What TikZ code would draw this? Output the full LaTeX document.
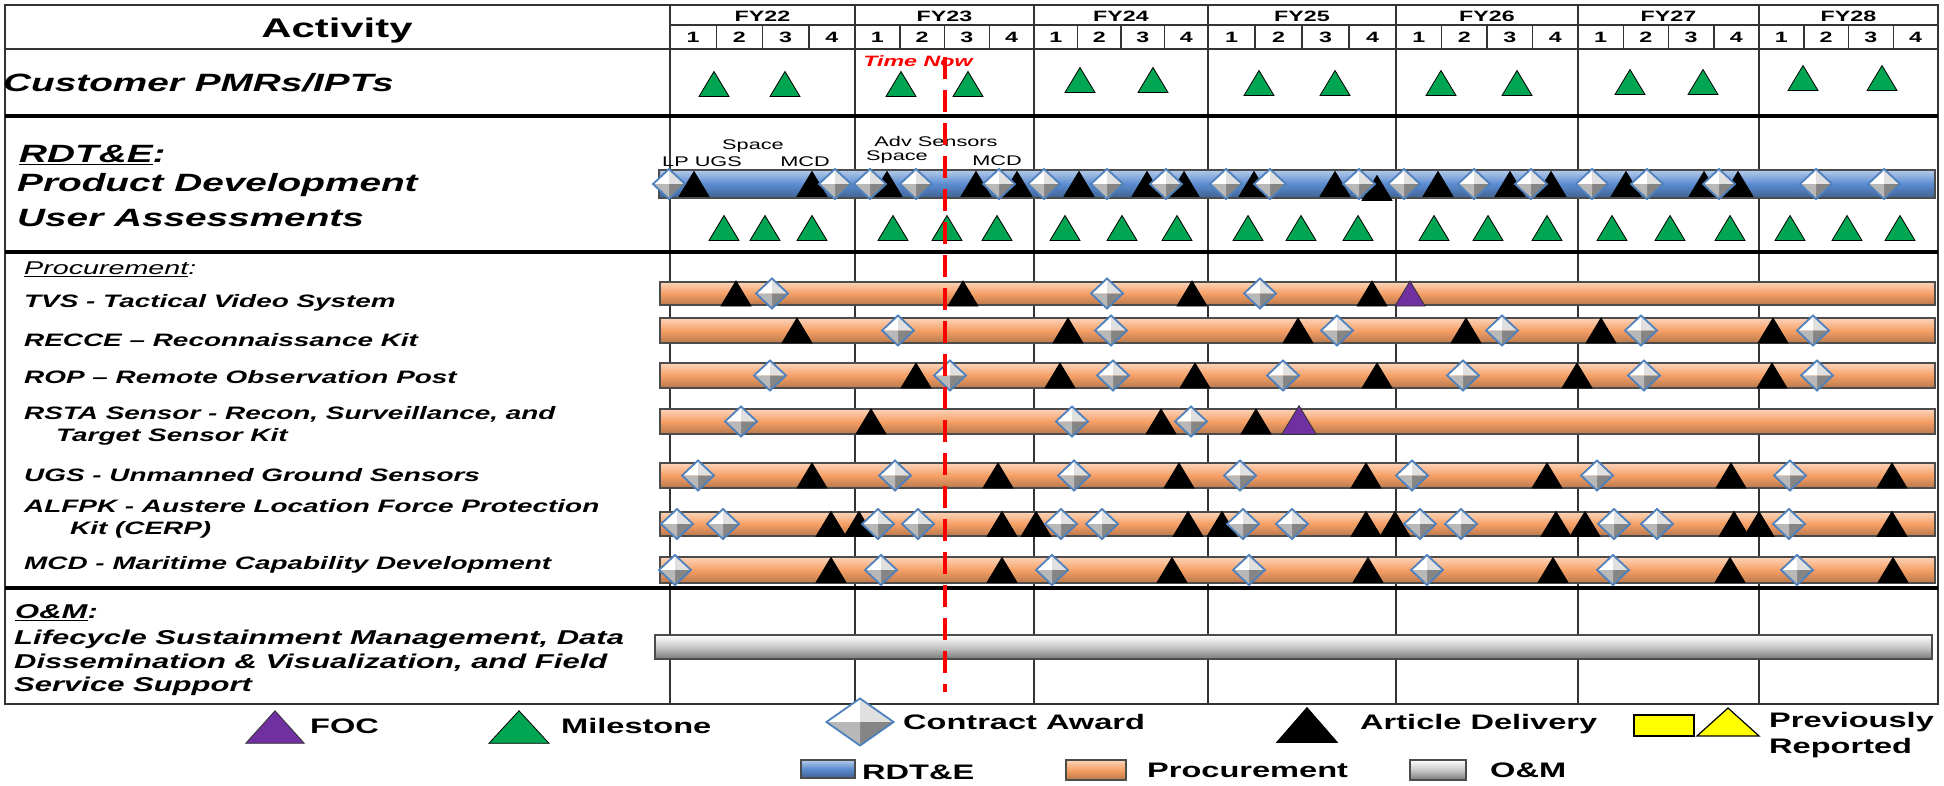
\documentclass[tikz,border=0pt]{standalone}
\usepackage{fontspec}
\setmainfont{Liberation Sans}[FakeStretch=1.55]

\definecolor{rdtblue}{RGB}{91,140,209}
\definecolor{procorange}{RGB}{246,160,102}
\definecolor{omgray}{RGB}{200,200,200}
\definecolor{milegreen}{RGB}{0,166,81}
\definecolor{focpurple}{RGB}{112,48,160}
\definecolor{awardblue}{RGB}{79,129,189}
\definecolor{prevyellow}{RGB}{255,255,0}

\tikzset{
  tri/.pic={\path[pic actions] (-15,12.5) -- (0,-12.5) -- (15,12.5) -- cycle;},
  dia/.pic={
    \fill[white] (0,0) -- (-16,0) -- (0,-15) -- cycle;
    \fill[black!12] (0,0) -- (0,-15) -- (16,0) -- cycle;
    \fill[black!48] (0,0) -- (16,0) -- (0,15) -- cycle;
    \fill[black!28] (0,0) -- (0,15) -- (-16,0) -- cycle;
    \path[pic actions] (-16,0) -- (0,-15) -- (16,0) -- (0,15) -- cycle;},
  mile/.style={draw=black,line width=0.8pt,fill=milegreen},
  deliv/.style={draw=black,line width=0.8pt,fill=black},
  foc/.style={draw=black!80,line width=0.8pt,fill=focpurple},
  award/.style={draw=awardblue,line width=1.8pt},
  prev/.style={draw=black,line width=1.2pt,fill=prevyellow},
  barbase/.style={draw=black!70,line width=1.2pt},
  rdtbar/.style={barbase,top color=rdtblue!45!white,bottom color=rdtblue!70!black,middle color=rdtblue},
  procbar/.style={barbase,top color=procorange!45!white,bottom color=procorange!75!black,middle color=procorange},
  ombar/.style={barbase,top color=white,bottom color=omgray!60!black,middle color=omgray},
  gridline/.style={draw=black!80,line width=1.5pt},
  thickrule/.style={draw=black,line width=4pt},
  nowline/.style={draw=red,line width=4pt,dash pattern=on 22pt off 11pt}
}

\begin{document}
\begin{tikzpicture}[x=1pt,y=-1pt,
  hdr/.style={inner sep=0pt,font=\bfseries\fontsize{15}{17}\selectfont},
  sect/.style={anchor=west,inner sep=0pt,font=\bfseries\itshape\fontsize{25}{28}\selectfont},
  item/.style={anchor=west,inner sep=0pt,align=left,font=\bfseries\itshape\fontsize{18}{22}\selectfont},
  ann/.style={inner sep=0pt,font=\fontsize{14}{16}\selectfont},
  key/.style={anchor=west,inner sep=0pt,align=left,font=\bfseries\fontsize{21}{26}\selectfont}]
\useasboundingbox[fill=white] (0,0) rectangle (1944,785);

% frame and grid
\draw[gridline] (5,5) rectangle (1938,704);
\draw[gridline] (670,5) -- (670,704);
\draw[gridline] (670,25) -- (1938,25);
\draw[gridline] (5,49) -- (1938,49);
\foreach \x in {855,1034,1208,1396,1578,1759}
  \draw[gridline] (\x,5) -- (\x,704);
\foreach \y in {116,252,588}
  \draw[thickrule] (5,\y) -- (1938,\y);

% fiscal years and quarters
\foreach \a/\b/\fy in {670/855/22,855/1034/23,1034/1208/24,1208/1396/25,1396/1578/26,1578/1759/27,1759/1938/28}{
  \node[hdr] (fy\fy) at ({(\a+\b)/2},16.5) {FY\fy};
  \foreach \q in {1,2,3,4}
    \node[hdr] (q\fy-\q) at ({\a+(\q-0.5)*(\b-\a)/4},37.5) {\q};
  \foreach \q in {1,2,3}
    \draw[gridline] ({\a+\q*(\b-\a)/4},25) -- ({\a+\q*(\b-\a)/4},49);
}

% activity labels
\node[inner sep=0pt,font=\bfseries\fontsize{27}{30}\selectfont] (activity) at (337,31) {Activity};
\node[sect] (pmr) at (3,83) {Customer PMRs/IPTs};
\node[sect] (rdte) at (19,155) {\underline{RDT\&E}:};
\node[sect] (proddev) at (17,185) {Product Development};
\node[sect] (userass) at (17,218) {User Assessments};
\node[item,font=\itshape\fontsize{18.5}{22}\selectfont] (procure) at (24,269) {\underline{Procurement}:};
\node[item] (tvs) at (24,303) {TVS - Tactical Video System};
\node[item] (recce) at (24,340) {RECCE – Reconnaissance Kit};
\node[item] (rop) at (24,377) {ROP – Remote Observation Post};
\node[item] (rsta) at (24,426) {RSTA Sensor - Recon, Surveillance, and\\\hspace*{32pt}Target Sensor Kit};
\node[item] (ugs) at (24,475) {UGS - Unmanned Ground Sensors};
\node[item] (alfpk) at (24,519) {ALFPK - Austere Location Force Protection\\\hspace*{46pt}Kit (CERP)};
\node[item] (mcd) at (24,565) {MCD - Maritime Capability Development};
\node[sect,font=\bfseries\itshape\fontsize{20}{23.5}\selectfont] (om) at (15,613) {\underline{O\&M}:};
\node[item,font=\bfseries\itshape\fontsize{20}{23.5}\selectfont] (omtext) at (14,663)
  {Lifecycle Sustainment Management, Data\\Dissemination \& Visualization, and Field\\Service Support};

% program notes
\node[ann] (space1) at (753,146) {Space};
\node[ann,anchor=west] (lpugs) at (662,162) {LP UGS};
\node[ann] (mcd1) at (805,162) {MCD};
\node[ann] (advsens) at (936,141) {Adv Sensors};
\node[ann] (space2) at (897,157) {Space};
\node[ann] (mcd2) at (997,161) {MCD};

% bars
\shade[rdtbar] (659,170) rectangle (1935,198);
\foreach \ya/\yb in {282/305,318/343,363/388,409/434,463/488,512/536,557/583}
  \shade[procbar] (660,\ya) rectangle (1935,\yb);
\shade[ombar] (655,635) rectangle (1932,659);

% customer PMRs
\foreach \x/\y in {714/84,785/84,901/84,968/84,1080/80,1153/80,1259/83,1335/83,1441/83,1517/83,1630/82,1703/82,1803/78,1882/78}
  \pic[mile] at (\x,\y) {tri};

% product development
\foreach \x in {694,812,887,976,1017,1079,1147,1184,1254,1335,1438,1510,1551,1626,1704,1738}
  \pic[deliv] at (\x,184) {tri};
\pic[deliv] at (1377,188) {tri};
\foreach \x in {669,835,870,916,999,1044,1107,1166,1226,1270,1359,1404,1474,1531,1592,1647,1719,1816,1884}
  \pic[award] at (\x,184) {dia};

% user assessments
\foreach \x in {724,765,812,893,947,997,1065,1122,1177,1248,1301,1358,1434,1488,1547,1612,1670,1730,1790,1847,1900}
  \pic[mile] at (\x,228) {tri};

% TVS
\foreach \x in {736,963,1192,1372} \pic[deliv] at (\x,293.5) {tri};
\foreach \x in {772,1107,1260} \pic[award] at (\x,293.5) {dia};
\pic[foc] at (1410,293.5) {tri};
% RECCE
\foreach \x in {797,1068,1298,1466,1601,1773} \pic[deliv] at (\x,330.5) {tri};
\foreach \x in {898,1111,1337,1502,1641,1813} \pic[award] at (\x,330.5) {dia};
% ROP
\foreach \x in {916,1060,1195,1377,1577,1772} \pic[deliv] at (\x,375.5) {tri};
\foreach \x in {770,950,1113,1283,1463,1644,1817} \pic[award] at (\x,375.5) {dia};
% RSTA
\foreach \x in {871,1161,1256} \pic[deliv] at (\x,421.5) {tri};
\foreach \x in {741,1072,1191} \pic[award] at (\x,421.5) {dia};
\pic[foc,scale=1.15] at (1299,420) {tri};
% UGS
\foreach \x in {812,998,1179,1366,1547,1731,1892} \pic[deliv] at (\x,475.5) {tri};
\foreach \x in {698,895,1074,1240,1412,1597,1790} \pic[award] at (\x,475.5) {dia};
% ALFPK
\foreach \x in {831,859,1002,1036,1188,1222,1366,1395,1556,1585,1734,1759,1892} \pic[deliv] at (\x,524) {tri};
\foreach \x in {677,723,878,918,1061,1102,1243,1292,1420,1461,1614,1657,1789} \pic[award] at (\x,524) {dia};
% MCD
\foreach \x in {831,1002,1172,1368,1553,1730,1893} \pic[deliv] at (\x,570) {tri};
\foreach \x in {675,881,1052,1249,1427,1613,1797} \pic[award] at (\x,570) {dia};

% time now
\node[inner sep=0pt,text=red,font=\bfseries\itshape\fontsize{15}{17}\selectfont] (timenow) at (918,61) {Time Now};
\coordinate (nowtop) at (945,57);
\coordinate (nowbot) at (945,692);
\draw[nowline] (nowtop) -- (nowbot);

% legend
\pic[foc,xscale=1.95,yscale=1.3] at (275,727) {tri};
\node[key] (kfoc) at (310,726) {FOC};
\pic[mile,xscale=2,yscale=1.3] at (519,727) {tri};
\node[key] (kmile) at (561,726) {Milestone};
\pic[award,xscale=2.1,yscale=1.57] at (860,722) {dia};
\node[key] (kaward) at (903,722) {Contract Award};
\pic[deliv,xscale=2.03,yscale=1.4] at (1307,725) {tri};
\node[key] (kdeliv) at (1360,724) {Article Delivery};
\draw[prev] (1634,715) rectangle (1694,736);
\pic[prev,xscale=2.07,yscale=1.12] at (1728,722) {tri};
\node[key] (kprev) at (1769,735) {Previously\\Reported};
\shade[rdtbar] (801,760) rectangle (855,778);
\node[key] (krdte) at (862,772) {RDT\&E};
\shade[procbar] (1066,760) rectangle (1126,780);
\node[key] (kproc) at (1147,770) {Procurement};
\shade[ombar] (1410,760) rectangle (1466,780);
\node[key] (kom) at (1490,770) {O\&M};
\end{tikzpicture}
\end{document}
